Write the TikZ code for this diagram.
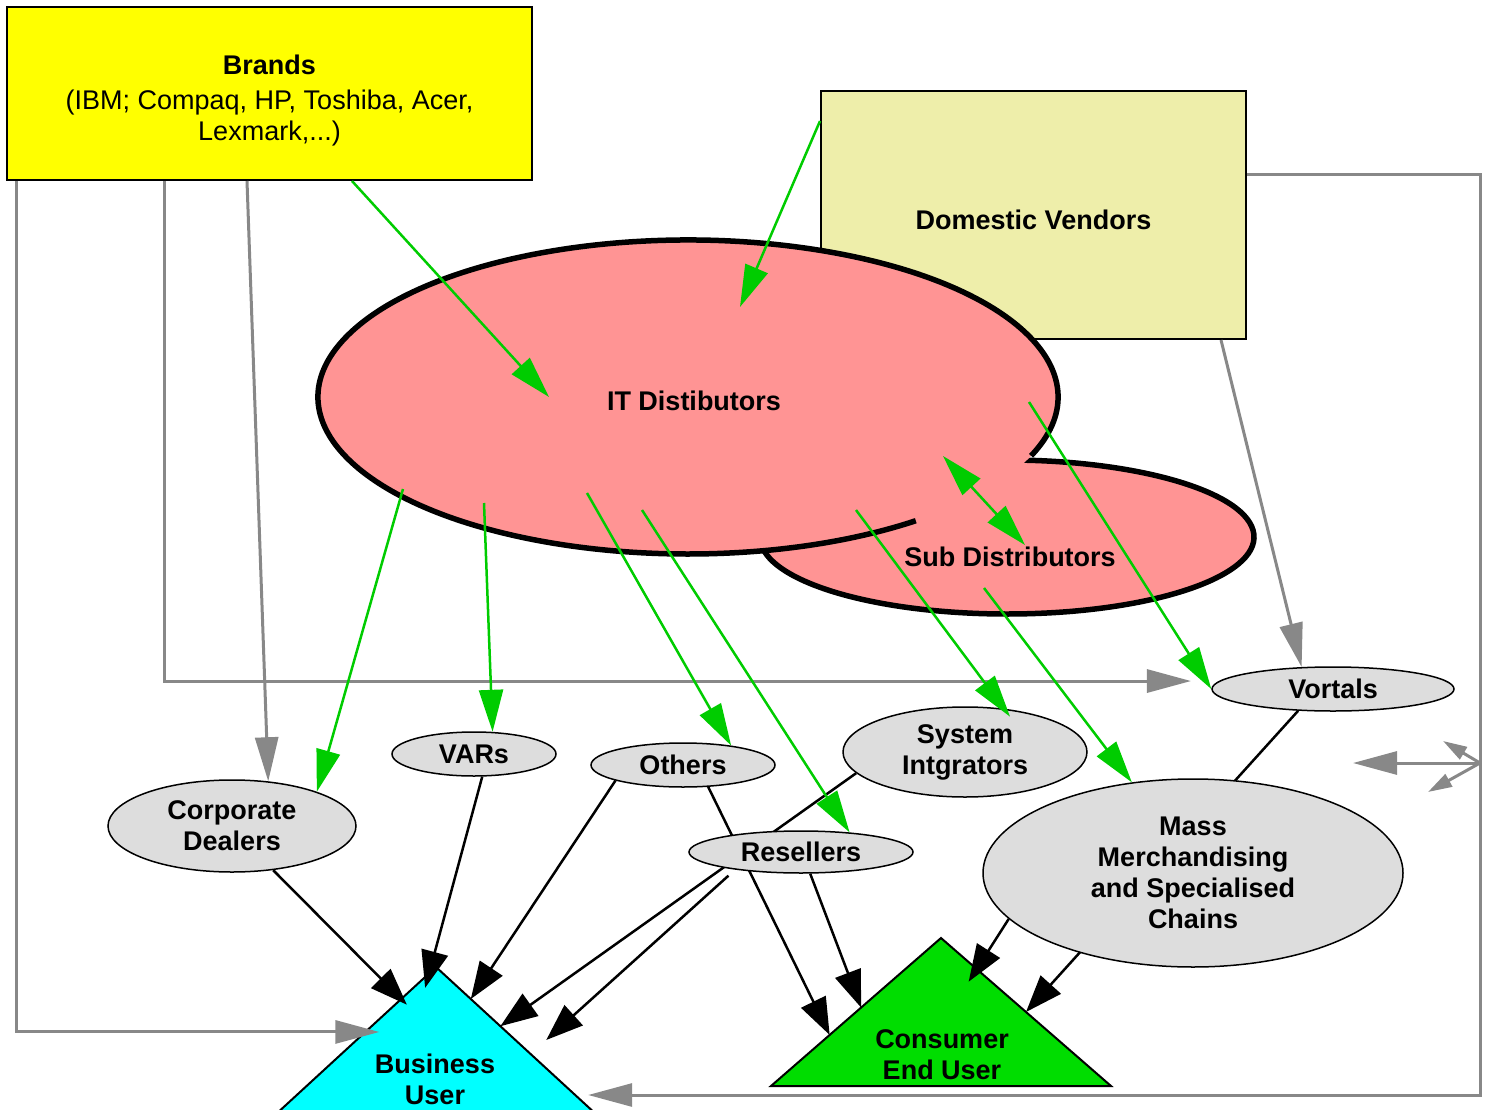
\documentclass[tikz,border=0pt]{standalone}
\usepackage{fontspec}
\setmainfont{Liberation Sans}
\usetikzlibrary{shapes.geometric,arrows.meta,calc}
\definecolor{brandyellow}{HTML}{FFFF00}
\definecolor{vendorkhaki}{HTML}{EEEEAA}
\definecolor{distpink}{HTML}{FF9494}
\definecolor{chanelgrey}{HTML}{DDDDDD}
\definecolor{linkgrey}{HTML}{888888}
\definecolor{linkgreen}{HTML}{00CC00}
\definecolor{userblue}{HTML}{00FFFF}
\definecolor{usergreen}{HTML}{00DD00}
\pgfdeclarelayer{bg}
\pgfsetlayers{bg,main}

\begin{document}
\begin{tikzpicture}[x=1pt,y=-1pt,
	txt/.style={font=\fontsize{27}{31}\selectfont,align=center,inner sep=0pt},
	bold/.style={txt,font=\bfseries\fontsize{27}{31}\selectfont},
	box/.style={txt,draw,line width=2pt,rectangle},
	chan/.style={bold,ellipse,draw,fill=chanelgrey,line width=1.5pt},
	blob/.style={line width=5.5pt},
	greyarr/.style={draw=linkgrey,line width=3pt,-{Triangle[length=44pt,width=23pt]}},
	greysmall/.style={draw=linkgrey,line width=3pt,-{Triangle[length=24pt,width=14pt]}},
	greenarr/.style={draw=linkgreen,line width=2.5pt,-{Triangle[length=42pt,width=24pt]}},
	greenboth/.style={draw=linkgreen,line width=2.5pt,{Triangle[length=42pt,width=24pt]}-{Triangle[length=42pt,width=24pt]}},
	blackarr/.style={draw=black,line width=2.5pt,-{Triangle[length=37pt,width=27pt]}}]
	\useasboundingbox (0,0) rectangle (1488,1110);
	\node[box,fill=brandyellow,minimum width=525pt,minimum height=173pt,text height=99pt] (brands) at (269.5,93.5) {\textbf{Brands}\\[4pt](IBM; Compaq, HP, Toshiba, Acer,\\Lexmark,...)};
	\node[box,fill=vendorkhaki,minimum width=425pt,minimum height=248pt,text height=29pt,font=\bfseries\fontsize{27}{31}\selectfont] (dv) at (1033.5,215) {Domestic Vendors};
	\fill[distpink] (1007,537) ellipse [x radius=247, y radius=77];
	\draw[blob] (1007,537) ++(-95:247 and 77) arc [start angle=-95, end angle=195, x radius=247, y radius=77];
	\fill[distpink] (688,397) ellipse [x radius=370, y radius=157];
	\draw[blob] (688,397) ++(22:370 and 157) arc [start angle=22, end angle=-308, x radius=370, y radius=157];
	\node[bold] (itd) at (694,401) {IT Distibutors};
	\node[bold] (subd) at (1010,557) {Sub Distributors};
	\node[chan,minimum width=248pt,minimum height=92pt] (cd) at (232,826) {Corporate\\Dealers};
	\node[chan,minimum width=164pt,minimum height=44pt] (vars) at (474,754) {VARs};
	\node[chan,minimum width=184pt,minimum height=44pt] (others) at (683,765) {Others};
	\node[chan,minimum width=244pt,minimum height=90pt] (si) at (965,752) {System\\Intgrators};
	\node[chan,minimum width=224pt,minimum height=42pt] (resellers) at (801,852) {Resellers};
	\node[chan,minimum width=420pt,minimum height=188pt] (mass) at (1193,873) {Mass\\Merchandising\\and Specialised\\Chains};
	\node[chan,minimum width=242pt,minimum height=44pt] (vortals) at (1333,689) {Vortals};
	\begin{pgfonlayer}{bg}
	\coordinate (bu-apex) at (436,967);
	\coordinate (bu-left) at (262,1127);
	\coordinate (bu-right) at (610,1127);
	\coordinate (ceu-apex) at (941,938);
	\coordinate (ceu-left) at (771,1086);
	\coordinate (ceu-right) at (1111,1086);
	\filldraw[fill=userblue,line width=2pt] (bu-apex) -- (bu-left) -- (bu-right) -- cycle;
	\filldraw[fill=usergreen,line width=2pt] (ceu-apex) -- (ceu-left) -- (ceu-right) -- cycle;
	\node[bold] (bu) at (435,1079) {Business\\User};
	\node[bold] (ceu) at (942,1055) {Consumer\\End User};
	\draw[blackarr,shorten >=-8pt] (cd.-47) -- ($(bu-apex)!.2!(bu-left)$);
	\draw[blackarr,shorten >=-15pt] (vars.-70) -- ($(bu-apex)!.04!(bu-left)$);
	\draw[blackarr] (others.-167) -- ($(bu-apex)!.2!(bu-right)$);
	\draw[blackarr] (si.-169) -- ($(bu-apex)!.37!(bu-right)$);
	\draw[blackarr,shorten <=9pt,shorten >=21pt] (resellers.-165) -- ($(bu-apex)!.544!(bu-right)$);
	\draw[blackarr] (others.-41) -- ($(ceu-apex)!.655!(ceu-left)$);
	\draw[blackarr] (resellers.-67) -- ($(ceu-apex)!.47!(ceu-left)$);
	\draw[blackarr,shorten >=-15pt] (mass.-166) -- ($(ceu-apex)!.21!(ceu-right)$);
	\draw[blackarr] (vortals.-148) -- ($(ceu-apex)!.5!(ceu-right)$);
	\end{pgfonlayer}
	\coordinate (ne) at (1480,175);
	\coordinate (fork) at (1480,763);
	\coordinate (fork-w) at (1353,763);
	\coordinate (fork-nw) at (1443,741);
	\coordinate (fork-sw) at (1428,792);
	\draw[greyarr,shorten >=-14pt] ([xshift=10pt]brands.south west) |- ($(bu-apex)!.406!(bu-left)$);
	\draw[greyarr] ([xshift=158pt]brands.south west) |- ([xshift=-28pt]vortals.176);
	\draw[greyarr] ([xshift=241pt]brands.south west) -- (cd.51);
	\draw[greyarr] ([xshift=-26pt]dv.south east) -- (vortals.145);
	\draw[greyarr,shorten >=13pt] ([yshift=40pt]dv.east) -- (ne) |- ($(bu-apex)!.8!(bu-right)$);
	\draw[greyarr] (fork) -- (fork-w);
	\draw[greysmall] (fork) -- (fork-nw);
	\draw[greysmall] (fork) -- (fork-sw);
	\draw[greenarr] ([xshift=346pt]brands.south west) -- ([shift={(-145,-4)}]itd.center);
	\draw[greenarr] ([yshift=94pt]dv.west) -- ([shift={(46,-94)}]itd.center);
	\draw[greenarr] ([shift={(-291,88)}]itd.center) -- (cd.22);
	\draw[greenarr] ([shift={(-210,102)}]itd.center) -- (vars.50);
	\draw[greenarr] ([shift={(-107,92)}]itd.center) -- (others.22);
	\draw[greenarr] ([shift={(-52,109)}]itd.center) -- (resellers.22);
	\draw[greenarr,shorten >=-10pt] ([shift={(162,109)}]itd.center) -- (si.48);
	\draw[greenarr] ([shift={(-26,31)}]subd.center) -- (mass.124);
	\draw[greenarr] ([shift={(335,1)}]itd.center) -- (vortals.west);
	\draw[greenboth] ([shift={(249,55)}]itd.center) -- ([shift={(15,-12)}]subd.center);
\end{tikzpicture}
\end{document}
